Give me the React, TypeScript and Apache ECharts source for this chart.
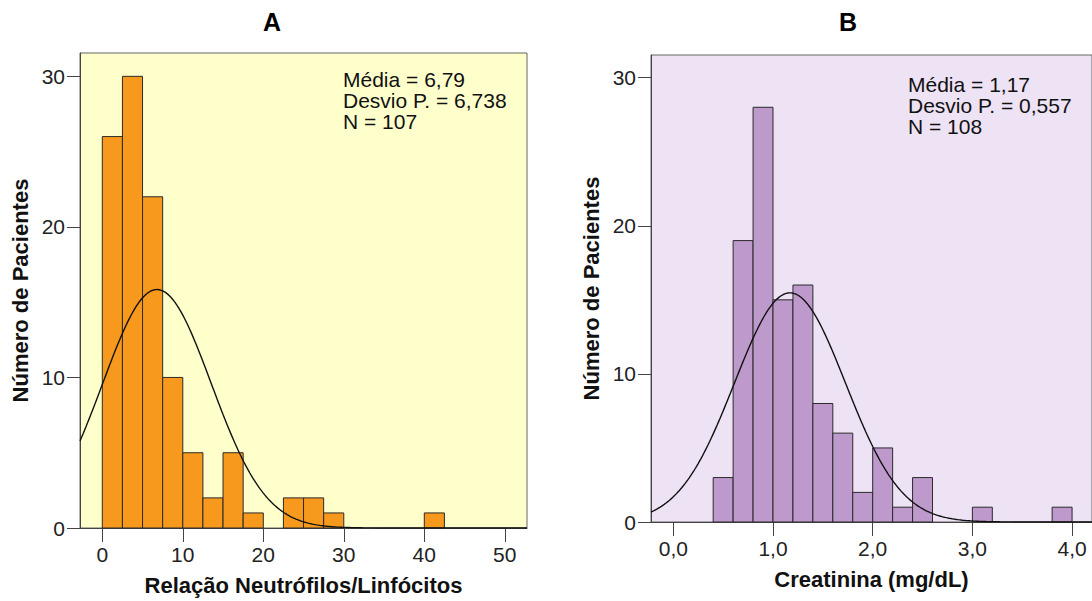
import React, { useEffect, useRef } from "react";
import * as echarts from "echarts";

// ---- Panel A: Relação Neutrófilos/Linfócitos ----
const binWidthA = 2.5;
const binStartsA = [0, 2.5, 5, 7.5, 10, 12.5, 15, 17.5, 22.5, 25, 27.5, 40];
const countsA = [26, 30, 22, 10, 5, 2, 5, 1, 2, 2, 1, 1];
const meanA = 6.79;
const sdA = 6.738;
const nA = 107;
const xTicksA = [0, 10, 20, 30, 40, 50];

// ---- Panel B: Creatinina (mg/dL) ----
const binWidthB = 0.2;
const binStartsB = [0.4, 0.6, 0.8, 1.0, 1.2, 1.4, 1.6, 1.8, 2.0, 2.2, 2.4, 3.0, 3.8];
const countsB = [3, 19, 28, 15, 16, 8, 6, 2, 5, 1, 3, 1, 1];
const meanB = 1.17;
const sdB = 0.557;
const nB = 108;
const xTicksB = [0, 1, 2, 3, 4];

const yTicks = [0, 10, 20, 30];

const FONT = "'Liberation Sans', Arial, sans-serif";

function normalCurve(mean: number, sd: number, n: number, bw: number, lo: number, hi: number) {
  const pts: number[][] = [];
  const steps = 300;
  for (let i = 0; i <= steps; i++) {
    const x = lo + ((hi - lo) * i) / steps;
    const z = (x - mean) / sd;
    const y = (n * bw) / (sd * Math.sqrt(2 * Math.PI)) * Math.exp(-0.5 * z * z);
    pts.push([x, y]);
  }
  return pts;
}

function histRender(fill: string) {
  return (params: any, api: any) => {
    const x0 = api.value(0);
    const x1 = api.value(1);
    const y = api.value(2);
    const p0 = api.coord([x0, y]);
    const p1 = api.coord([x1, 0]);
    return {
      type: "rect",
      shape: { x: p0[0], y: p0[1], width: p1[0] - p0[0], height: p1[1] - p0[1] },
      style: { fill, stroke: "#2a2a2a", lineWidth: 1 },
    };
  };
}

export default function App() {
  const ref = useRef<HTMLDivElement>(null);
  useEffect(() => {
    if (!ref.current) return;
    const chart = echarts.init(ref.current, undefined, { renderer: "svg" });

    const xMinA = -2.77, xMaxA = 52.76;
    const xMinB = -0.224, xMaxB = 4.2;
    const yMaxA = 31.55, yMaxB = 31.53;

    const nameStyle = { fontFamily: FONT, fontWeight: "bold", fontSize: 22, color: "#111" };
    const labelStyle = { fontFamily: FONT, fontSize: 21, color: "#222" };

    const axisY = (gridIndex: number, max: number) => ({
      type: "value",
      gridIndex,
      min: 0,
      max,
      name: "Número de Pacientes",
      nameLocation: "middle",
      nameGap: 49,
      nameTextStyle: nameStyle,
      splitLine: { show: false },
      axisLine: { show: true, onZero: false, lineStyle: { color: "#444", width: 1 } },
      axisTick: { show: true, inside: false, length: 13, lineStyle: { color: "#444" }, customValues: yTicks },
      axisLabel: { margin: 15, ...labelStyle, customValues: yTicks },
    });

    const axisX = (gridIndex: number, min: number, max: number, name: string, ticks: number[], fmt: (v: number) => string) => ({
      type: "value",
      gridIndex,
      min,
      max,
      name,
      nameLocation: "middle",
      nameGap: 46,
      nameTextStyle: nameStyle,
      splitLine: { show: false },
      axisLine: { show: true, onZero: false, lineStyle: { color: "#444", width: 1 } },
      axisTick: { show: true, inside: false, length: 14, lineStyle: { color: "#444" }, customValues: ticks },
      axisLabel: { margin: 16, ...labelStyle, customValues: ticks, formatter: fmt },
    });

    const statsText = (mean: number, sd: number, n: number) =>
      `Média = ${mean.toFixed(2).replace(".", ",")}\nDesvio P. = ${sd.toFixed(3).replace(".", ",")}\nN = ${n}`;

    const option: any = {
      animation: false,
      backgroundColor: "#ffffff",
      grid: [
        { left: 80, top: 53, width: 447, height: 478, show: true, backgroundColor: "#FFFFCC", borderColor: "#666", borderWidth: 1 },
        { left: 651, top: 55, width: 447, height: 467, show: true, backgroundColor: "#EEE2F5", borderColor: "#666", borderWidth: 1 },
      ],
      xAxis: [
        axisX(0, xMinA, xMaxA, "Relação Neutrófilos/Linfócitos", xTicksA, (v: number) => String(v)),
        axisX(1, xMinB, xMaxB, "Creatinina (mg/dL)", xTicksB, (v: number) => v.toFixed(1).replace(".", ",")),
      ],
      yAxis: [axisY(0, yMaxA), axisY(1, yMaxB)],
      series: [
        {
          type: "custom",
          xAxisIndex: 0,
          yAxisIndex: 0,
          renderItem: histRender("#F7991C"),
          encode: { x: [0, 1], y: 2 },
          data: binStartsA.map((s, i) => [s, s + binWidthA, countsA[i]]),
          silent: true,
        },
        {
          type: "line",
          xAxisIndex: 0,
          yAxisIndex: 0,
          data: normalCurve(meanA, sdA, nA, binWidthA, xMinA, xMaxA),
          showSymbol: false,
          symbol: "none",
          lineStyle: { color: "#111", width: 1.4 },
          clip: true,
          silent: true,
          z: 5,
        },
        {
          type: "custom",
          xAxisIndex: 1,
          yAxisIndex: 1,
          renderItem: histRender("#BD99CC"),
          encode: { x: [0, 1], y: 2 },
          data: binStartsB.map((s, i) => [s, s + binWidthB, countsB[i]]),
          silent: true,
        },
        {
          type: "line",
          xAxisIndex: 1,
          yAxisIndex: 1,
          data: normalCurve(meanB, sdB, nB, binWidthB, xMinB, xMaxB),
          showSymbol: false,
          symbol: "none",
          lineStyle: { color: "#111", width: 1.4 },
          clip: true,
          silent: true,
          z: 5,
        },
      ],
      graphic: [
        {
          type: "text",
          x: 272,
          y: 22,
          style: { text: "A", fontFamily: FONT, fontWeight: "bold", fontSize: 25, fill: "#000", align: "center", verticalAlign: "middle" },
        },
        {
          type: "text",
          x: 848,
          y: 22,
          style: { text: "B", fontFamily: FONT, fontWeight: "bold", fontSize: 25, fill: "#000", align: "center", verticalAlign: "middle" },
        },
        {
          type: "text",
          x: 343,
          y: 69,
          z: 10,
          style: {
            text: statsText(meanA, sdA, nA),
            fontFamily: FONT,
            fontSize: 21,
            lineHeight: 21,
            fill: "#111",
            align: "left",
            verticalAlign: "top",
          },
        },
        {
          type: "text",
          x: 908,
          y: 74,
          z: 10,
          style: {
            text: statsText(meanB, sdB, nB),
            fontFamily: FONT,
            fontSize: 21,
            lineHeight: 21,
            fill: "#111",
            align: "left",
            verticalAlign: "top",
          },
        },
      ],
    };

    chart.setOption(option);
    return () => {
      chart.dispose();
    };
  }, []);

  return (
    <div
      ref={ref}
      style={{ position: "fixed", left: 0, top: 0, width: 1092, height: 601, background: "#fff" }}
    />
  );
}
